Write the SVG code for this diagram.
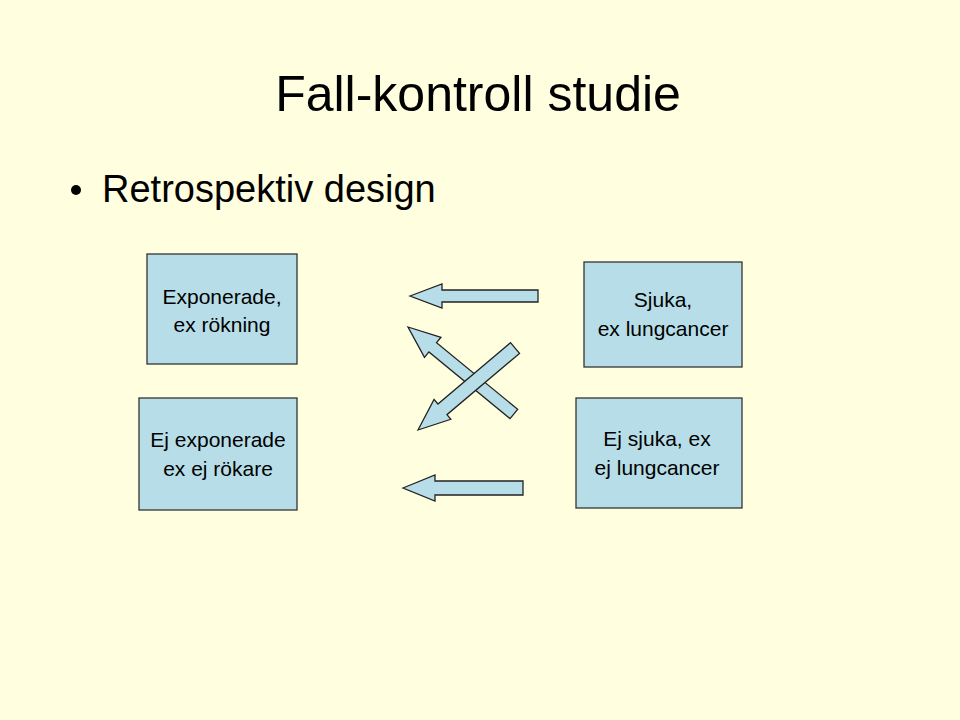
<svg xmlns="http://www.w3.org/2000/svg" width="960" height="720" viewBox="0 0 960 720">
<style>
.b{fill:#b7dee8;stroke:#333;stroke-width:1.3}
.a{fill:#b7dee8;stroke:#222;stroke-width:1.3}
text{font-family:"Liberation Sans",Arial,sans-serif;fill:#000}
.t{font-size:21px;text-anchor:middle}
</style>
<rect x="0" y="0" width="960" height="720" fill="#ffffdf"/>
<text x="478" y="111" font-size="50" text-anchor="middle">Fall-kontroll studie</text>
<circle cx="76" cy="190" r="5" fill="#000"/>
<text x="102" y="202" font-size="38">Retrospektiv design</text>
<g id="n1"><rect class="b" x="147" y="254" width="150" height="110"/><text class="t" x="222" y="304">Exponerade,</text><text class="t" x="222" y="332">ex rökning</text></g>
<g id="n2"><rect class="b" x="584" y="262" width="158" height="105"/><text class="t" x="663" y="307">Sjuka,</text><text class="t" x="663" y="336">ex lungcancer</text></g>
<g id="n3"><rect class="b" x="139" y="398" width="158" height="112"/><text class="t" x="218" y="447">Ej exponerade</text><text class="t" x="218" y="476">ex ej rökare</text></g>
<g id="n4"><rect class="b" x="576" y="398" width="166" height="110"/><text class="t" x="657" y="446">Ej sjuka, ex</text><text class="t" x="657" y="475">ej lungcancer</text></g>
<g id="connectors">
<polygon class="a" transform="translate(410,296)" points="0,0 32,-12 32,-6 128,-6 128,6 32,6 32,12"/>
<polygon class="a" transform="translate(403,488)" points="0,0 32,-13 32,-7 120,-7 120,7 32,7 32,13"/>
<polygon class="a" transform="translate(408,327) rotate(39.4)" points="0,0 32,-13 32,-6 137,-6 137,6 32,6 32,13"/>
<polygon class="a" transform="translate(418,430) rotate(-40.2)" points="0,0 32,-13 32,-7 127,-7 127,7 32,7 32,13"/>
</g>
</svg>
